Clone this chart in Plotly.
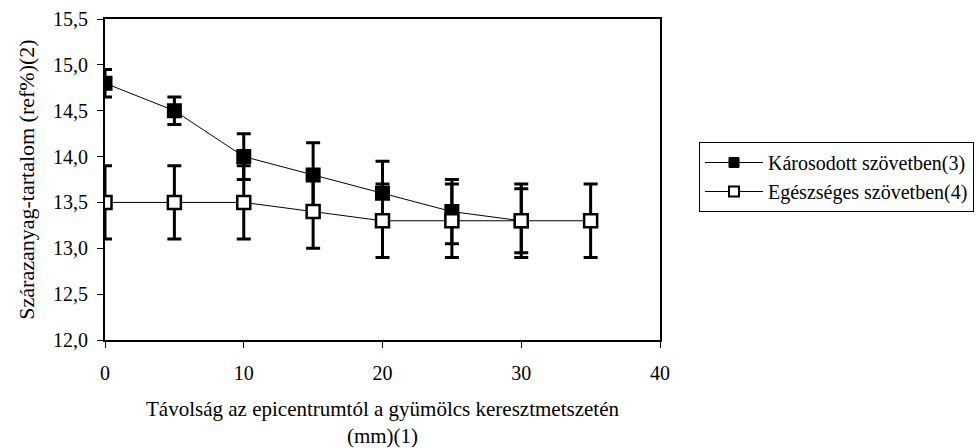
import plotly.graph_objects as go

x_damaged = [0, 5, 10, 15, 20, 25, 30]
y_damaged = [14.8, 14.5, 14.0, 13.8, 13.6, 13.4, 13.3]
err_damaged = [0.15, 0.15, 0.25, 0.35, 0.35, 0.35, 0.35]

x_healthy = [0, 5, 10, 15, 20, 25, 30, 35]
y_healthy = [13.5, 13.5, 13.5, 13.4, 13.3, 13.3, 13.3, 13.3]
err_healthy = [0.4, 0.4, 0.4, 0.4, 0.4, 0.4, 0.4, 0.4]

name_damaged = "Károsodott szövetben(3)"
name_healthy = "Egészséges szövetben(4)"

FONT = "Liberation Serif, Times New Roman, serif"

fig = go.Figure()
fig.add_trace(go.Scatter(
    x=x_damaged, y=y_damaged, mode="lines+markers", showlegend=False,
    line=dict(color="black", width=1),
    marker=dict(symbol="square", size=13, color="black", line=dict(color="black", width=2)),
    error_y=dict(type="data", array=err_damaged, visible=True, color="black", thickness=3, width=7),
))
fig.add_trace(go.Scatter(
    x=x_healthy, y=y_healthy, mode="lines+markers", showlegend=False,
    line=dict(color="black", width=1),
    marker=dict(symbol="square", size=13, color="white", line=dict(color="black", width=2.5)),
    error_y=dict(type="data", array=err_healthy, visible=True, color="black", thickness=3, width=7),
))
# legend entries
fig.add_trace(go.Scatter(
    x=[None], y=[None], mode="lines+markers", name=name_damaged,
    line=dict(color="black", width=1),
    marker=dict(symbol="square", size=10, color="black", line=dict(color="black", width=1)),
))
fig.add_trace(go.Scatter(
    x=[None], y=[None], mode="lines+markers", name=name_healthy,
    line=dict(color="black", width=1),
    marker=dict(symbol="square", size=10, color="white", line=dict(color="black", width=2)),
))

fig.update_layout(
    width=979, height=448,
    margin=dict(l=105, r=319, t=19, b=108, autoexpand=False),
    paper_bgcolor="white", plot_bgcolor="white",
    font=dict(family=FONT, size=20, color="black"),
    separators=", ",
    showlegend=True,
    legend=dict(
        x=(699 - 105) / 555, xanchor="left", y=(340 - 142) / 321, yanchor="top",
        bordercolor="black", borderwidth=1, bgcolor="white",
        font=dict(family=FONT, size=20, color="black"),
        itemwidth=58, tracegroupgap=0,
    ),
    xaxis=dict(
        range=[0, 40], tick0=0, dtick=10, showgrid=False, zeroline=False,
        showline=True, linecolor="black", linewidth=2, mirror=True,
        ticks="outside", ticklen=6, tickwidth=1, tickcolor="black",
        ticklabelstandoff=8,
        title=dict(text="Távolság az epicentrumtól a gyümölcs keresztmetszetén<br>(mm)(1)",
                   font=dict(family=FONT, size=21), standoff=24),
        tickfont=dict(family=FONT, size=20),
    ),
    yaxis=dict(
        range=[12, 15.5], tick0=12, dtick=0.5, tickformat=".1f", showgrid=False, zeroline=False,
        showline=True, linecolor="black", linewidth=2, mirror=True,
        ticks="outside", ticklen=6, tickwidth=1, tickcolor="black",
        ticklabelstandoff=5,
        title=dict(text="Szárazanyag-tartalom (ref%)(2)", font=dict(family=FONT, size=22), standoff=12),
        tickfont=dict(family=FONT, size=20),
    ),
)

fig.write_html("out.html")
